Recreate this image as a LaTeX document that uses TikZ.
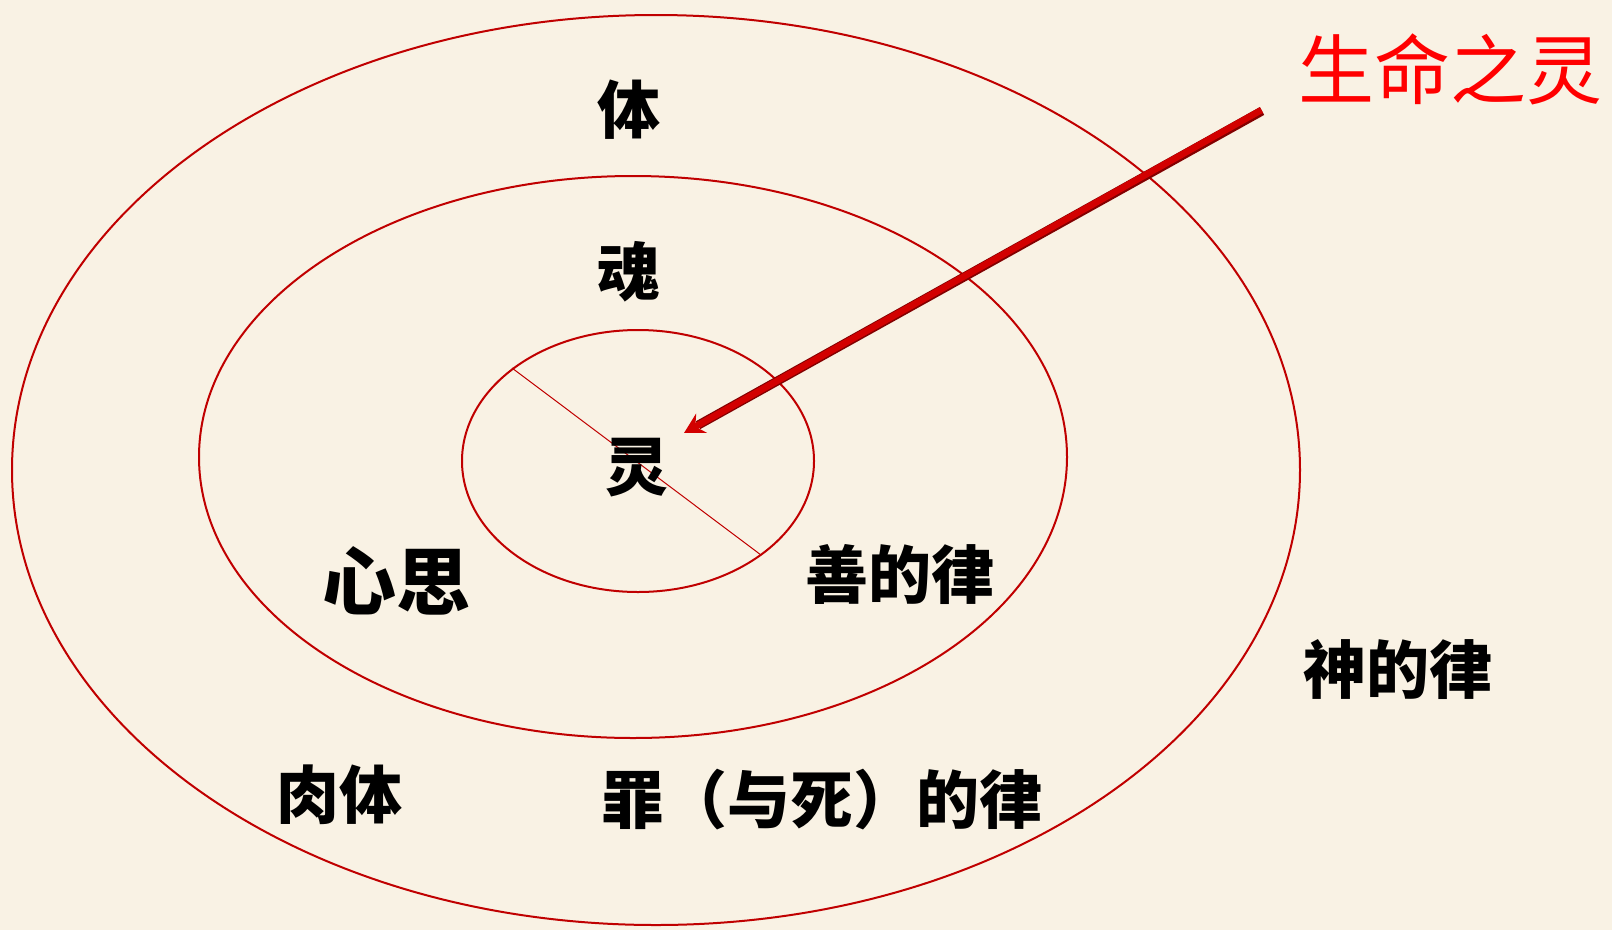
\documentclass[tikz,border=0pt]{standalone}
\usepackage{fontspec}
\usetikzlibrary{arrows.meta,calc}
\newfontfamily\cjk{Noto Sans CJK SC}
\definecolor{bgcream}{RGB}{249,242,228}
\definecolor{ringred}{RGB}{192,0,0}
\definecolor{arrowred}{RGB}{210,0,0}
\definecolor{arrowdark}{RGB}{130,0,0}
\definecolor{titlered}{RGB}{255,0,0}
\tikzset{
  ringline/.style={draw=ringred, line width=2pt},
  lbl/.style={font={\cjk\bfseries\fontsize{63pt}{63pt}\selectfont}, text=black, inner sep=0pt},
  biglbl/.style={font={\cjk\bfseries\fontsize{74pt}{74pt}\selectfont}, text=black, inner sep=0pt},
  titlelbl/.style={font={\cjk\fontsize{76pt}{76pt}\selectfont}, text=titlered, inner sep=0pt},
}
\begin{document}
\begin{tikzpicture}[x=1pt,y=-1pt]
\fill[bgcream] (0,0) rectangle (1612,930);
\useasboundingbox (0,0) rectangle (1612,930);
% rings
\draw[ringline] (656,470) ellipse [x radius=644, y radius=455];
\draw[ringline] (633,457) ellipse [x radius=434, y radius=281];
\draw[ringline] (638,461) ellipse [x radius=176, y radius=131];
% diameter line in inner ring
\coordinate (d1) at (512,368);
\coordinate (d2) at (761,555);
\draw[ringred, line width=1pt] (d1) -- (d2);
% labels
\node[lbl] (ti) at (629,110) {体};
\node[lbl] (hun) at (629,272) {魂};
\node[lbl] (ling) at (637,468) {灵};
\node[biglbl] (xinsi) at (396,581) {心思};
\node[lbl] (shan) at (900,574) {善的律};
\node[lbl] (shen) at (1398,670) {神的律};
\node[lbl] (routi) at (339,795) {肉体};
\node[lbl] (zui) at (822,800) {罪（与死）的律};
\node[titlelbl] (title) at (1450,69) {生命之灵};
% arrow
\coordinate (astart) at (1262,111);
\coordinate (atip) at (684,433);
\draw[arrowdark, line width=9pt, shorten >=16pt] (astart) -- (atip);
\draw[arrowred, line width=6.5pt, -{Stealth[length=20pt,width=22pt,inset=7pt]}] ([xshift=-0.5pt,yshift=1pt]astart) -- (atip);
\end{tikzpicture}
\end{document}
